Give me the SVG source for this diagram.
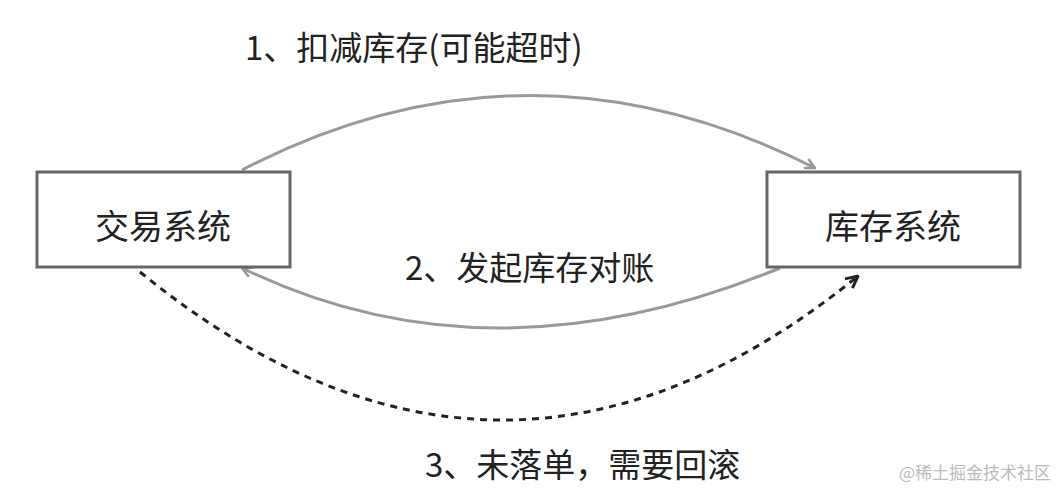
<svg xmlns="http://www.w3.org/2000/svg" width="1060" height="492" viewBox="0 0 1060 492">
<style>
.box{fill:#fff;stroke:#666;stroke-width:3}
.t{font-family:"Noto Sans CJK SC","Noto Sans",sans-serif;fill:#222;font-size:34px}
.lbl{font-family:"Noto Sans CJK SC","Noto Sans",sans-serif;fill:#222;font-size:33px}
.solid{fill:none;stroke:#999;stroke-width:3}
.dot{fill:none;stroke:#222;stroke-width:3;stroke-dasharray:7 6}
</style>
<defs>
<marker id="ag" viewBox="0 0 12 12" refX="11" refY="6" markerWidth="12" markerHeight="12" markerUnits="userSpaceOnUse" orient="auto">
<path d="M1,1 L11,6 L1,11" fill="none" stroke="#999" stroke-width="2.5"/>
</marker>
<marker id="ad" viewBox="0 0 14 14" refX="13" refY="7" markerWidth="14" markerHeight="14" markerUnits="userSpaceOnUse" orient="auto">
<path d="M1,1 L13,7 L1,13" fill="none" stroke="#222" stroke-width="3"/>
</marker>
</defs>
<rect width="1060" height="492" fill="#fff"/>
<g id="connectors">
<path class="solid" d="M242,170 Q528,22 815,168" marker-end="url(#ag)"/>
<path class="solid" d="M780,268 Q489,388 242,268" marker-end="url(#ag)"/>
<path class="dot" d="M140,272 Q501,566 858,276" marker-end="url(#ad)"/>
</g>
<g id="node-trade">
<rect class="box" x="37" y="172" width="253" height="95"/>
<text class="t" x="163" y="239" text-anchor="middle">交易系统</text>
</g>
<g id="node-stock">
<rect class="box" x="767" y="172" width="253" height="95"/>
<text class="t" x="893" y="239" text-anchor="middle">库存系统</text>
</g>
<g id="labels">
<text class="lbl" x="245" y="60">1、扣减库存(可能超时)</text>
<text class="lbl" x="405" y="280">2、发起库存对账</text>
<text class="lbl" x="425" y="477">3、未落单，需要回滚</text>
<text x="1051" y="479" text-anchor="end" font-family="Noto Sans CJK SC,sans-serif" font-size="17" fill="#bbb">@稀土掘金技术社区</text>
</g>
</svg>
